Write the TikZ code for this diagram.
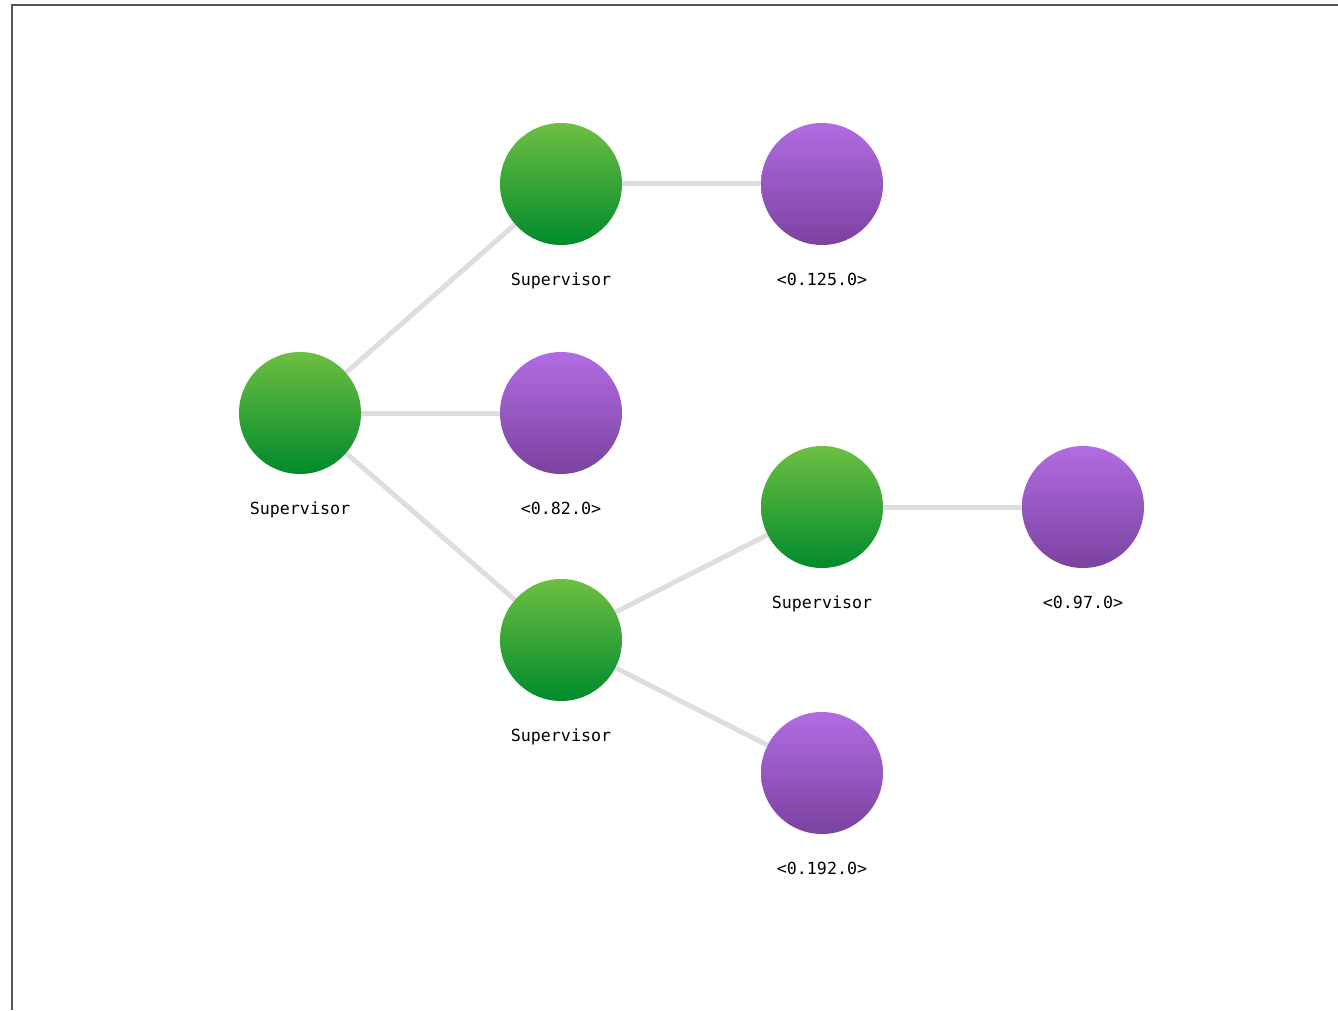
\documentclass[tikz,border=0pt]{standalone}
\usepackage{fontspec}
\setmonofont{DejaVu Sans Mono}
\usetikzlibrary{positioning,backgrounds}

\definecolor{supertop}{HTML}{6DBF42}
\definecolor{superbot}{HTML}{018A2C}
\definecolor{leaftop}{HTML}{B16CE2}
\definecolor{leafbot}{HTML}{7B429F}
\definecolor{linkgrey}{HTML}{DEDEDE}
\definecolor{framegrey}{HTML}{555555}

\begin{document}
\begin{tikzpicture}
[super/.style={circle,top color=supertop,bottom color=superbot,
inner sep=0pt,minimum size=91.5pt},
leaf/.style={circle,top color=leaftop,bottom color=leafbot,
inner sep=0pt,minimum size=91.5pt},
link/.style={draw=linkgrey,line width=3.75pt},
every label/.style={font=\ttfamily\fontsize{12.5}{15}\selectfont,text=black},
label distance=17.5pt,
node distance=195.75pt,on grid]

\useasboundingbox (-225pt,-447.75pt) rectangle (778.5pt,309.75pt);
\draw [framegrey,line width=1.1pt] (-216pt,-447.75pt) -- (-216pt,306pt) -- (778.5pt,306pt);

\node [super,label=below:Supervisor] (root) {};
\node [super,label=below:Supervisor] (sup1) [above right=171.75pt and 195.75pt of root] {};
\node [leaf,label=below:<0.125.0>] (leaf1) [right=of sup1] {};
\node [leaf,label=below:<0.82.0>] (leaf2) [right=of root] {};
\node [super,label=below:Supervisor] (sup2) [below right=170.25pt and 195.75pt of root] {};
\node [super,label=below:Supervisor] (sup3) [above right=99.75pt and 195.75pt of sup2] {};
\node [leaf,label=below:<0.97.0>] (leaf3) [right=of sup3] {};
\node [leaf,label=below:<0.192.0>] (leaf4) [below right=99.75pt and 195.75pt of sup2] {};

\begin{pgfonlayer}{background}
\draw [link] (root) -- (sup1);
\draw [link] (root) -- (leaf2);
\draw [link] (root) -- (sup2);
\draw [link] (sup1) -- (leaf1);
\draw [link] (sup2) -- (sup3);
\draw [link] (sup2) -- (leaf4);
\draw [link] (sup3) -- (leaf3);
\end{pgfonlayer}
\end{tikzpicture}
\end{document}
